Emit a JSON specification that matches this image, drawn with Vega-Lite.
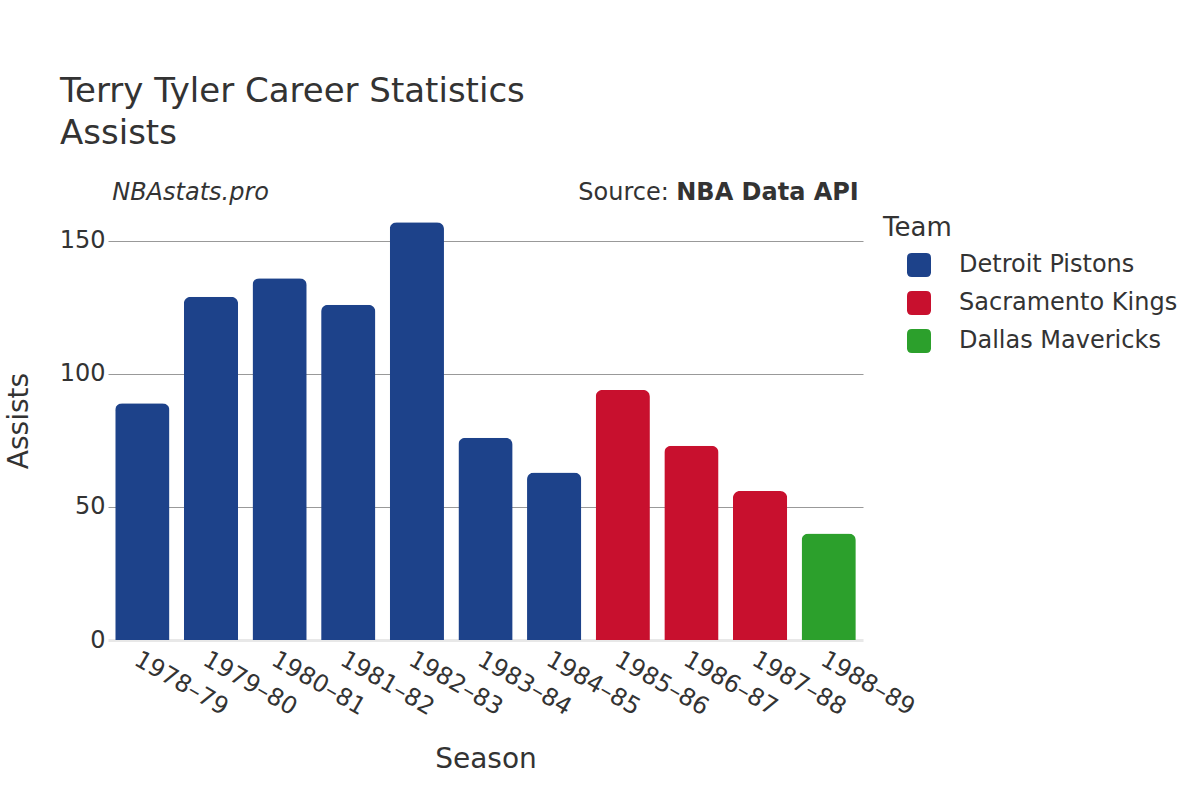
{
  "$schema": "https://vega.github.io/schema/vega-lite/v6.json",
  "autosize": "none",
  "width": 755,
  "height": 439,
  "padding": {"left": 108, "top": 201, "right": 337, "bottom": 160},
  "background": "white",
  "config": {
    "font": "DejaVu Sans",
    "view": {"stroke": null},
    "text": {"color": "#333"}
  },
  "title": {
    "text": ["Terry Tyler Career Statistics", "Assists"],
    "fontSize": 34,
    "lineHeight": 42,
    "fontWeight": "normal",
    "color": "#333",
    "anchor": "start",
    "frame": "group",
    "dx": -48,
    "offset": 30,
    "font": "DejaVu Sans"
  },
  "data": {
    "values": [
      {"Season": "1978–79", "Team": "Detroit Pistons", "Assists": 89},
      {"Season": "1979–80", "Team": "Detroit Pistons", "Assists": 129},
      {"Season": "1980–81", "Team": "Detroit Pistons", "Assists": 136},
      {"Season": "1981–82", "Team": "Detroit Pistons", "Assists": 126},
      {"Season": "1982–83", "Team": "Detroit Pistons", "Assists": 157},
      {"Season": "1983–84", "Team": "Detroit Pistons", "Assists": 76},
      {"Season": "1984–85", "Team": "Detroit Pistons", "Assists": 63},
      {"Season": "1985–86", "Team": "Sacramento Kings", "Assists": 94},
      {"Season": "1986–87", "Team": "Sacramento Kings", "Assists": 73},
      {"Season": "1987–88", "Team": "Sacramento Kings", "Assists": 56},
      {"Season": "1988–89", "Team": "Dallas Mavericks", "Assists": 40}
    ]
  },
  "layer": [
    {
      "mark": {"type": "bar", "cornerRadiusTopLeft": 7, "cornerRadiusTopRight": 7},
      "encoding": {
        "x": {
          "field": "Season",
          "type": "nominal",
          "sort": null,
          "scale": {"paddingInner": 0.21, "paddingOuter": 0.105},
          "axis": {
            "title": "Season",
            "titleFontSize": 28,
            "titleFontWeight": "normal",
            "titleColor": "#333",
            "titlePadding": 26,
            "labelAngle": 30,
            "labelFontSize": 24,
            "labelColor": "#333",
            "labelPadding": 7,
            "domain": false,
            "ticks": false
          }
        },
        "y": {
          "field": "Assists",
          "type": "quantitative",
          "scale": {"domain": [0, 165], "nice": false},
          "axis": {
            "title": "Assists",
            "titleFontSize": 28,
            "titleFontWeight": "normal",
            "titleColor": "#333",
            "titlePadding": 26,
            "values": [0, 50, 100, 150],
            "labelFontSize": 24,
            "labelColor": "#333",
            "labelPadding": 3,
            "domain": false,
            "ticks": false,
            "gridColor": {"condition": {"test": "datum.value === 0", "value": "#e8e8e8"}, "value": "#999"},
            "gridWidth": {"condition": {"test": "datum.value === 0", "value": 3}, "value": 1}
          }
        },
        "color": {
          "field": "Team",
          "type": "nominal",
          "scale": {
            "domain": ["Detroit Pistons", "Sacramento Kings", "Dallas Mavericks"],
            "range": ["#1d428a", "#c8102e", "#2ca02c"]
          },
          "legend": {
            "title": "Team",
            "titleFontSize": 26,
            "titleFontWeight": "normal",
            "titleColor": "#333",
            "titlePadding": 12,
            "labelFontSize": 24,
            "labelColor": "#333",
            "labelOffset": 28,
            "labelLimit": 400,
            "symbolType": "M-0.6,-1H0.6Q1,-1 1,-0.6V0.6Q1,1 0.6,1H-0.6Q-1,1 -1,0.6V-0.6Q-1,-1 -0.6,-1Z",
            "symbolSize": 576,
            "symbolStrokeWidth": 0,
            "symbolOpacity": 1,
            "symbolOffset": 24,
            "rowPadding": 14,
            "offset": 6,
            "padding": 14
          }
        }
      }
    },
    {
      "data": {"values": [{"label": "NBAstats.pro"}]},
      "mark": {"type": "text", "align": "left", "baseline": "middle", "fontSize": 24, "fontStyle": "italic", "dx": -3, "dy": -8, "color": "#333"},
      "encoding": {
        "x": {"datum": "1978–79", "bandPosition": 0},
        "y": {"datum": 165},
        "text": {"field": "label"}
      }
    },
    {
      "data": {"values": [{"label": "NBA Data API"}]},
      "mark": {"type": "text", "align": "right", "baseline": "middle", "fontSize": 24, "fontWeight": "bold", "dx": 3, "dy": -8, "color": "#333"},
      "encoding": {
        "x": {"datum": "1988–89", "bandPosition": 1},
        "y": {"datum": 165},
        "text": {"field": "label"}
      }
    },
    {
      "data": {"values": [{"label": "Source:"}]},
      "mark": {"type": "text", "align": "right", "baseline": "middle", "fontSize": 24, "dx": -187, "dy": -8, "color": "#333"},
      "encoding": {
        "x": {"datum": "1988–89", "bandPosition": 1},
        "y": {"datum": 165},
        "text": {"field": "label"}
      }
    }
  ]
}
